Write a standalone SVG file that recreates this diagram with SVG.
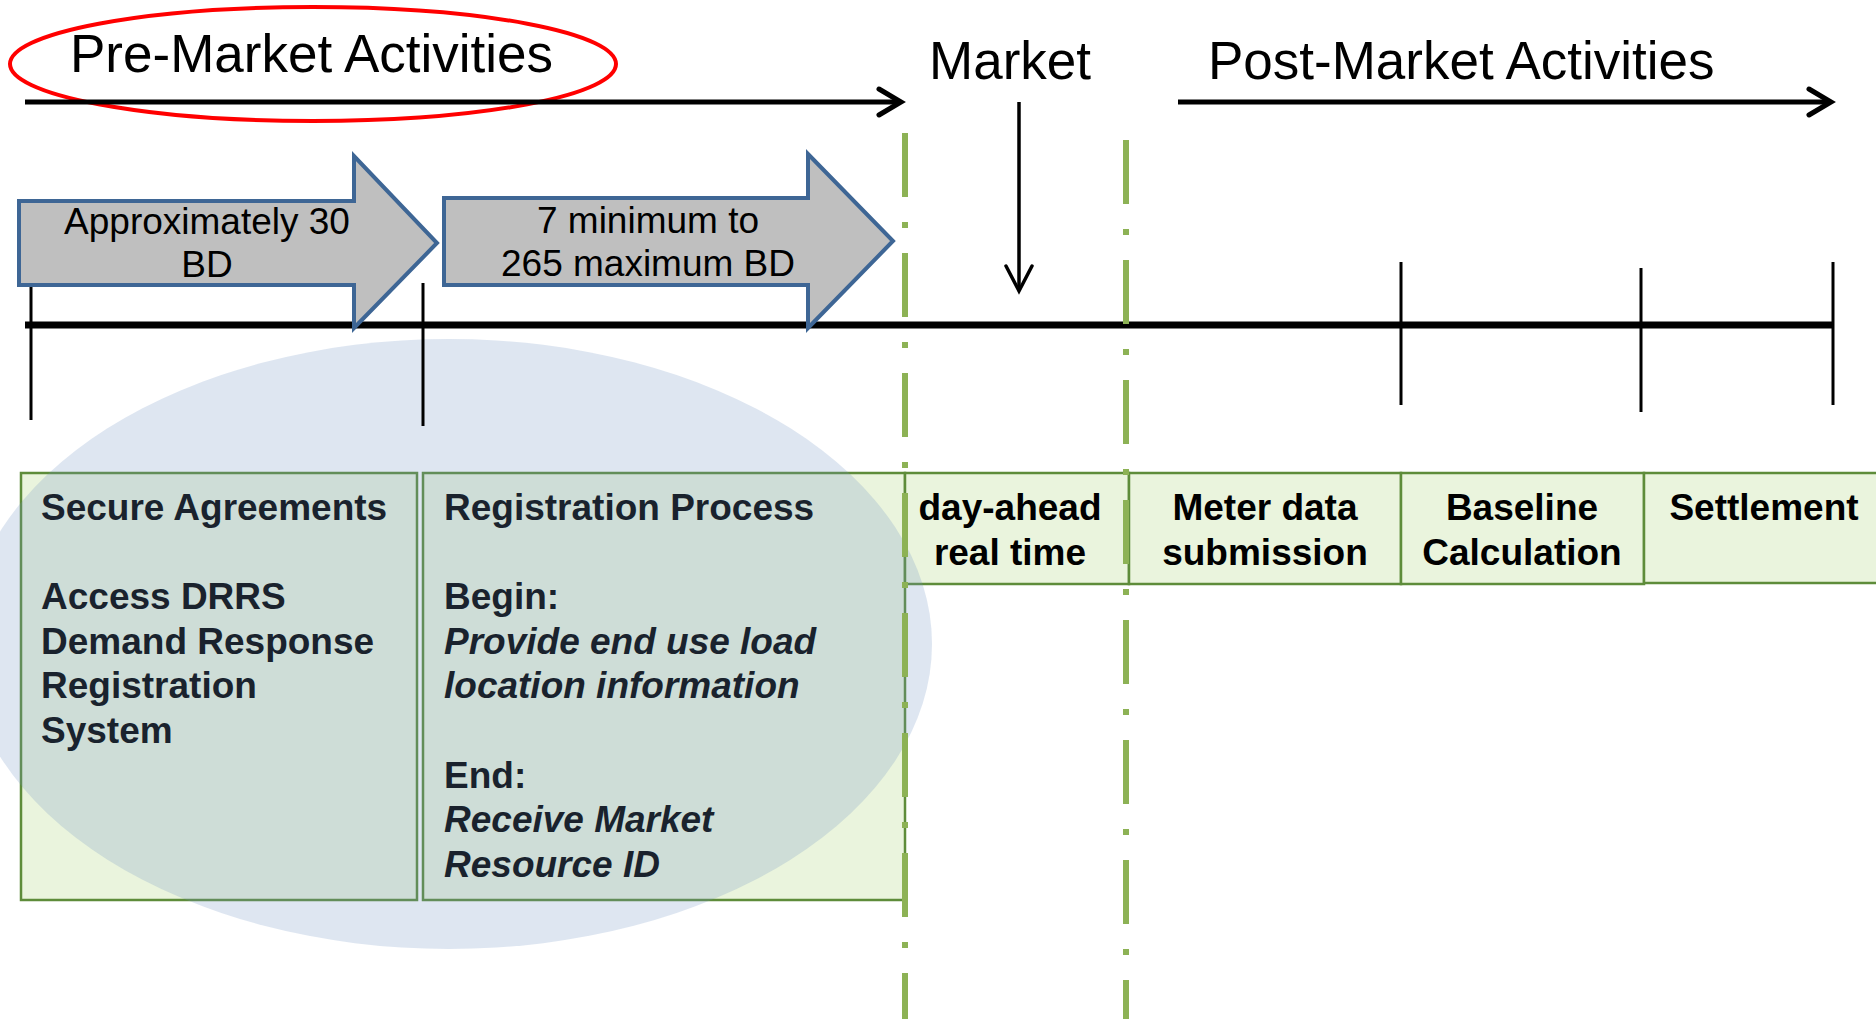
<svg xmlns="http://www.w3.org/2000/svg" width="1876" height="1019" viewBox="0 0 1876 1019">
<defs>
<style>
.title{font-family:"Liberation Sans",Arial,sans-serif;font-size:53px;fill:#000}
.arrtxt{font-family:"Liberation Sans",Arial,sans-serif;font-size:37px;fill:#000;text-anchor:middle}
.box{fill:#EAF4DD;stroke:#5E8C3A;stroke-width:2.5}
.bt{font-family:"Liberation Sans",Arial,sans-serif;font-size:37px;font-weight:bold;fill:#000}
.bi{font-style:italic}
.mid{text-anchor:middle}
.blk{fill:#BFBFBF;stroke:#3E6695;stroke-width:4;stroke-linejoin:miter}
.tick{stroke:#000;stroke-width:3}
.dd{stroke:#8DB255;stroke-width:6;stroke-dasharray:64 25 6 25;fill:none}
.conn{stroke:#000;fill:none}
</style>
<marker id="headBig" markerUnits="userSpaceOnUse" markerWidth="40" markerHeight="40" viewBox="-30 -20 40 40" refX="0" refY="0" orient="auto">
<path d="M -22 -13 L 0 0 L -22 13" fill="none" stroke="#000" stroke-width="5" stroke-linecap="round"/>
</marker>
<marker id="headSmall" markerUnits="userSpaceOnUse" markerWidth="40" markerHeight="40" viewBox="-30 -20 40 40" refX="0" refY="0" orient="auto">
<path d="M -25 -13 L 0 0 L -25 13" fill="none" stroke="#000" stroke-width="3.5" stroke-linecap="round"/>
</marker>
</defs>
<rect width="1876" height="1019" fill="#fff"/>

<g id="secure-agreements">
<rect class="box" x="21" y="473" width="396" height="427"/>
<text class="bt" x="41" y="520">Secure Agreements</text>
<text class="bt" x="41" y="609">Access DRRS</text>
<text class="bt" x="41" y="654">Demand Response</text>
<text class="bt" x="41" y="698">Registration</text>
<text class="bt" x="41" y="743">System</text>
</g>
<g id="registration-process">
<rect class="box" x="423" y="473" width="482" height="427"/>
<text class="bt" x="444" y="520">Registration Process</text>
<text class="bt" x="444" y="609">Begin:</text>
<text class="bt bi" x="444" y="654">Provide end use load</text>
<text class="bt bi" x="444" y="698">location information</text>
<text class="bt" x="444" y="788">End:</text>
<text class="bt bi" x="444" y="832">Receive Market</text>
<text class="bt bi" x="444" y="877">Resource ID</text>
</g>
<g id="day-ahead">
<rect class="box" x="905" y="473" width="224" height="111"/>
<text class="bt mid" x="1010" y="520">day-ahead</text>
<text class="bt mid" x="1010" y="565">real time</text>
</g>
<g id="meter-data">
<rect class="box" x="1129" y="473" width="272" height="111"/>
<text class="bt mid" x="1265" y="520">Meter data</text>
<text class="bt mid" x="1265" y="565">submission</text>
</g>
<g id="baseline">
<rect class="box" x="1401" y="473" width="243" height="111"/>
<text class="bt mid" x="1522" y="520">Baseline</text>
<text class="bt mid" x="1522" y="565">Calculation</text>
</g>
<g id="settlement">
<rect class="box" x="1644" y="473" width="250" height="110"/>
<text class="bt mid" x="1764" y="520">Settlement</text>
</g>

<g id="pre-market-scope">
<ellipse cx="449" cy="644" rx="483" ry="305" fill="#7295C1" fill-opacity="0.23"/>
</g>

<g id="timeline">
<line x1="25" y1="325" x2="1833" y2="325" stroke="#000" stroke-width="7"/>
<line class="tick" x1="31" y1="286" x2="31" y2="420"/>
<line class="tick" x1="423" y1="283" x2="423" y2="426"/>
<line class="tick" x1="1401" y1="262" x2="1401" y2="405"/>
<line class="tick" x1="1641" y1="268" x2="1641" y2="412"/>
<line class="tick" x1="1833" y1="262" x2="1833" y2="405"/>
</g>

<g id="approx-30-bd">
<polygon class="blk" points="19,201 354,201 354,156 437,243 354,328 354,285 19,285"/>
<text class="arrtxt" x="207" y="234">Approximately 30</text>
<text class="arrtxt" x="207" y="277">BD</text>
</g>
<g id="min-max-bd">
<polygon class="blk" points="444,198 808,198 808,154 893,241 808,328 808,285 444,285"/>
<text class="arrtxt" x="648" y="233">7 minimum to</text>
<text class="arrtxt" x="648" y="276">265 maximum BD</text>
</g>

<g id="pre-market-label">
<ellipse cx="313" cy="64" rx="303" ry="57" fill="none" stroke="#FF0000" stroke-width="4"/>
<text class="title" x="70" y="72">Pre-Market Activities</text>
</g>
<g id="market-label">
<text class="title" x="929" y="79">Market</text>
</g>
<g id="post-market-label">
<text class="title" x="1208" y="79">Post-Market Activities</text>
</g>

<g id="connectors">
<line class="conn" x1="25" y1="102" x2="901" y2="102" stroke-width="5" marker-end="url(#headBig)"/>
<line class="conn" x1="1178" y1="102" x2="1831" y2="102" stroke-width="5" marker-end="url(#headBig)"/>
<line class="conn" x1="1019" y1="102" x2="1019" y2="291" stroke-width="3.5" marker-end="url(#headSmall)"/>
</g>

<g id="market-boundaries">
<line class="dd" x1="905" y1="133" x2="905" y2="1019"/>
<line class="dd" x1="1126" y1="140" x2="1126" y2="1019"/>
</g>
</svg>
